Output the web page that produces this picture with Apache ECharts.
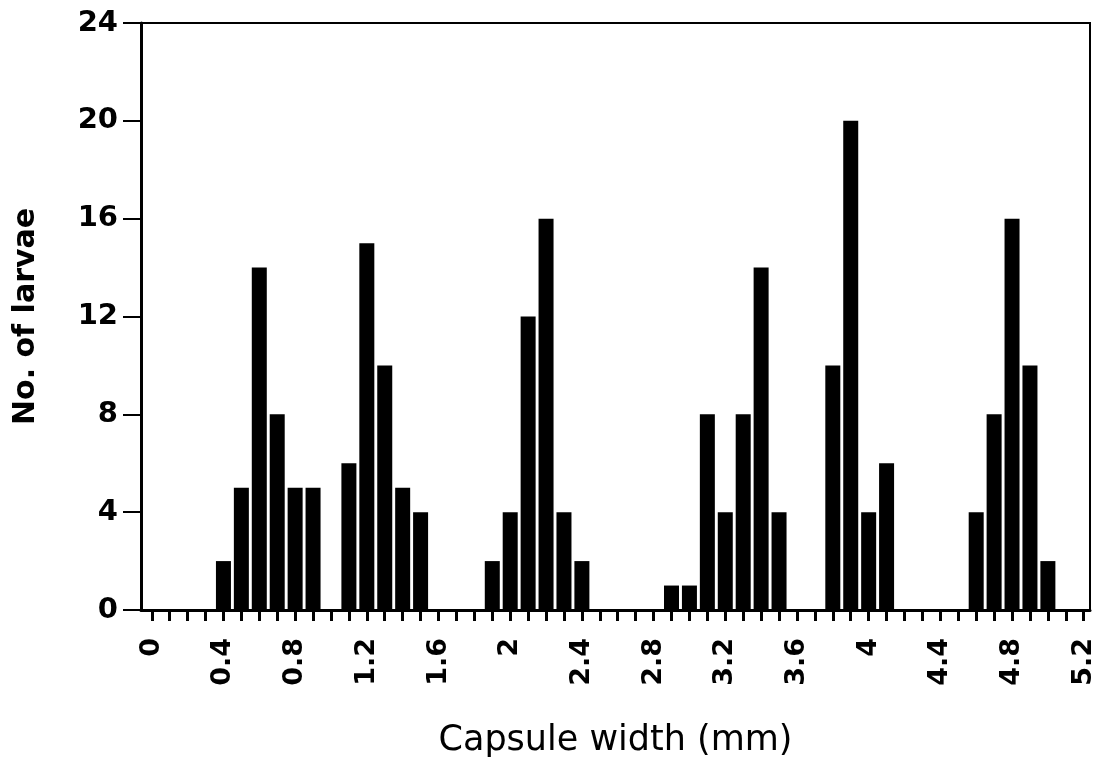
<!DOCTYPE html>
<html>
<head>
<meta charset="utf-8">
<title>Capsule width</title>
<script src="https://cdn.jsdelivr.net/npm/echarts@6/dist/echarts.min.js"></script>
<style>
  html, body { margin: 0; padding: 0; background: #fff; }
  #chart { width: 1105px; height: 763px; }
</style>
</head>
<body>
<div id="chart"></div>
<script>
// head capsule width classes (mm) and number of larvae in each
const widths = [0.4, 0.5, 0.6, 0.7, 0.8, 0.9,
  1.1, 1.2, 1.3, 1.4, 1.5,
  1.9, 2.0, 2.1, 2.2, 2.3, 2.4,
  2.9, 3.0, 3.1, 3.2, 3.3, 3.4, 3.5,
  3.8, 3.9, 4.0, 4.1,
  4.6, 4.7, 4.8, 4.9, 5.0];
const larvae = [2, 5, 14, 8, 5, 5,
  6, 15, 10, 5, 4,
  2, 4, 12, 16, 4, 2,
  1, 1, 8, 4, 8, 14, 4,
  10, 20, 4, 6,
  4, 8, 16, 10, 2];

const xLabelValues = [0, 0.4, 0.8, 1.2, 1.6, 2, 2.4, 2.8, 3.2, 3.6, 4, 4.4, 4.8, 5.2];
// minor ticks every 0.1 mm
const xTickValues = [];
for (let i = 0; i <= 52; i++) xTickValues.push(i / 10);

const chart = echarts.init(document.getElementById('chart'));

const option = {
  animation: false,
  grid: {
    left: 141, right: 15, top: 23, bottom: 149,
    show: true, borderColor: '#000', borderWidth: 2
  },
  xAxis: {
    type: 'value',
    min: -0.06,
    max: 5.235,
    name: 'Capsule width (mm)',
    nameLocation: 'middle',
    nameGap: 113,
    nameTextStyle: { fontFamily: 'DejaVu Sans', fontSize: 35, color: '#000' },
    axisLine: { onZero: false, lineStyle: { color: '#000', width: 3 } },
    axisTick: { show: true, customValues: xTickValues, length: 11, lineStyle: { color: '#000', width: 3 } },
    axisLabel: {
      customValues: xLabelValues,
      rotate: 90,
      margin: 28,
      color: '#000',
      fontFamily: 'DejaVu Sans',
      fontWeight: 'bold',
      fontSize: 27
    },
    splitLine: { show: false }
  },
  yAxis: {
    type: 'value',
    min: 0,
    max: 24,
    interval: 4,
    name: 'No. of larvae',
    nameLocation: 'middle',
    nameGap: 100,
    nameTextStyle: { fontFamily: 'DejaVu Sans', fontWeight: 'bold', fontSize: 30, color: '#000' },
    axisLine: { show: true, onZero: false, lineStyle: { color: '#000', width: 3 } },
    axisTick: { show: true, length: 18, lineStyle: { color: '#000', width: 2 } },
    axisLabel: {
      margin: 23,
      color: '#000',
      fontFamily: 'DejaVu Sans',
      fontWeight: 'bold',
      fontSize: 29
    },
    splitLine: { show: false }
  },
  series: [{
    type: 'bar',
    barWidth: 15,
    itemStyle: { color: '#000' },
    data: widths.map((w, i) => [w, larvae[i]])
  }]
};

chart.setOption(option);
</script>
</body>
</html>
